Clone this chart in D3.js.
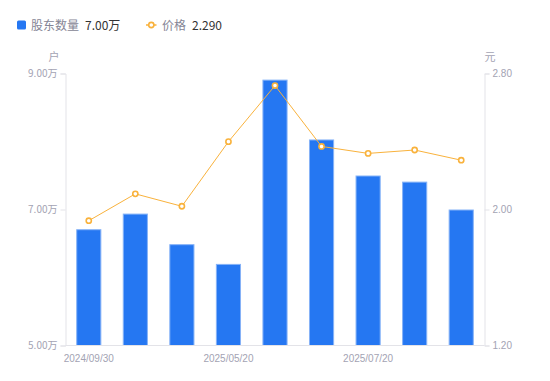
<!DOCTYPE html>
<html><head><meta charset="utf-8">
<script src="https://cdn.jsdelivr.net/npm/d3@7/dist/d3.min.js"></script>
<style>
html,body{margin:0;padding:0;background:#fff;}
svg{display:block;font-family:"Noto Sans CJK SC","Noto Sans",sans-serif;}
</style></head>
<body><svg id="c" width="550" height="381"></svg>
<script>
const categories = ["2024/09/30","c2","c3","2025/05/20","c5","c6","2025/07/20","c8","c9"];
const holders = [6.71, 6.94, 6.49, 6.20, 8.91, 8.03, 7.50, 7.41, 7.00]; // 万户
const price = [1.934, 2.092, 2.019, 2.399, 2.729, 2.371, 2.330, 2.350, 2.290];
const xTickLabels = ["2024/09/30","2025/05/20","2025/07/20"];
const leftTicks = [5, 7, 9];
const rightTicks = [1.2, 2.0, 2.8];

const svg = d3.select("#c");
const L = 65.5, R = 484.5, T = 73.5, B = 345.5;
const blue = "#2577f2", orange = "#f9b23c", axisCol = "#e3e3e8", txtCol = "#a3a3b3";

const x = d3.scaleBand().domain(d3.range(categories.length)).range([L, R]).paddingInner(0.46).paddingOuter(0.23);
const yL = d3.scaleLinear().domain([5, 9]).range([B, T]);
const yR = d3.scaleLinear().domain([1.2, 2.8]).range([B, T]);

// bars
svg.append("g").selectAll("rect").data(holders).join("rect")
  .attr("x", (d,i)=>x(i)+0.5).attr("width", x.bandwidth()-1)
  .attr("y", d=>yL(d)+0.5).attr("height", d=>B-yL(d)-0.5)
  .attr("fill", blue).attr("stroke", "#86b3f7").attr("stroke-width", 1);

// axes
const gl = svg.append("g").attr("transform", `translate(${L},0)`)
  .call(d3.axisLeft(yL).tickValues(leftTicks).tickSize(5).tickPadding(3).tickFormat(d=>d3.format(".2f")(d)+"万"));
const gr = svg.append("g").attr("transform", `translate(${R},0)`)
  .call(d3.axisRight(yR).tickValues(rightTicks).tickSize(5).tickPadding(3).tickFormat(d3.format(".2f")));
[gl, gr].forEach(g=>{
  g.select(".domain").attr("stroke", axisCol);
  g.selectAll(".tick line").attr("stroke", axisCol);
  g.selectAll(".tick text").attr("fill", txtCol).attr("font-size", 10).attr("font-family", "Liberation Sans, Arial, sans-serif");
});
gl.selectAll(".tick text").attr("font-family", "Noto Sans CJK SC, sans-serif");
// bottom baseline
svg.append("line").attr("x1", L).attr("x2", R).attr("y1", B).attr("y2", B).attr("stroke", axisCol);

// x tick labels
const xIdx = xTickLabels.map(l=>categories.indexOf(l));
svg.append("g").selectAll("text").data(xTickLabels).join("text")
  .attr("x", (d,i)=>x(xIdx[i])+x.bandwidth()/2).attr("y", B+16)
  .attr("text-anchor","middle").attr("font-size",10).attr("fill",txtCol)
  .attr("font-family","Liberation Sans, Arial, sans-serif").text(d=>d);

// unit labels
svg.append("text").attr("x", L-6).attr("y", T-13).attr("text-anchor","end").attr("font-size",11).attr("fill",txtCol).text("户");
svg.append("text").attr("x", R).attr("y", T-13).attr("text-anchor","start").attr("font-size",11).attr("fill",txtCol).text("元");

// line
const cx = i => x(i)+x.bandwidth()/2;
svg.append("path").datum(price)
  .attr("d", d3.line().x((d,i)=>cx(i)).y(d=>yR(d)))
  .attr("fill","none").attr("stroke",orange).attr("stroke-width",1);
svg.append("g").selectAll("circle").data(price).join("circle")
  .attr("cx",(d,i)=>cx(i)).attr("cy",d=>yR(d)).attr("r",2.6)
  .attr("fill","#fff").attr("stroke",orange).attr("stroke-width",1.6);

// legend
const lg = svg.append("g");
lg.append("rect").attr("x",17).attr("y",20.5).attr("width",9).attr("height",9).attr("rx",1.5).attr("fill",blue);
lg.append("text").attr("x",31).attr("y",29.5).attr("font-size",12).attr("fill","#858595").text("股东数量");
lg.append("text").attr("x",85).attr("y",29.5).attr("font-size",12).attr("fill","#333").text(d3.format(".2f")(holders[holders.length-1])+"万");
lg.append("line").attr("x1",146).attr("x2",156.5).attr("y1",25).attr("y2",25).attr("stroke",orange).attr("stroke-width",1.5);
lg.append("circle").attr("cx",151.3).attr("cy",25).attr("r",2.6).attr("fill","#fff").attr("stroke",orange).attr("stroke-width",1.6);
lg.append("text").attr("x",162).attr("y",29.5).attr("font-size",12).attr("fill","#858595").text("价格");
lg.append("text").attr("x",192).attr("y",29.5).attr("font-size",12).attr("fill","#333").text(d3.format(".3f")(price[price.length-1]));
</script></body></html>
